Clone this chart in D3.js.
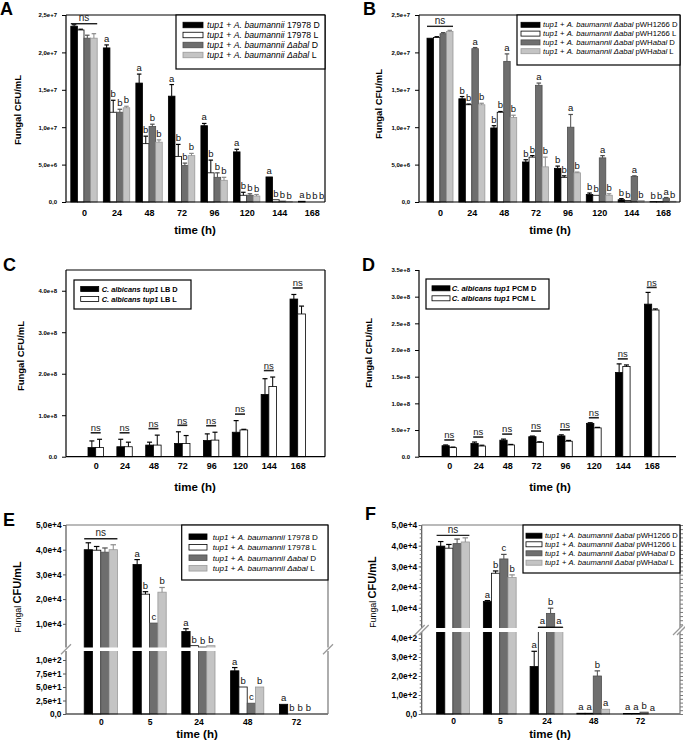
<!DOCTYPE html>
<html><head><meta charset="utf-8">
<script src="https://cdn.jsdelivr.net/npm/d3@7"></script>
<style>
body{margin:0;background:#fff}
svg{display:block}
text{white-space:pre}
</style>
</head><body>
<svg id="fig" width="685" height="748"></svg>
<script>
// ---------------- DATA ----------------
const timesLong = ["0","24","48","72","96","120","144","168"];
const timesShort = ["0","5","24","48","72"];

// Panel A  (Fungal CFU/mL)
const A_wtD   = [2.35e7, 2.06e7, 1.59e7, 1.415e7, 1.02e7, 0.67e7, 0.335e7, 0.01e7];
const A_wtD_e = [0.02e7, 0.04e7, 0.12e7, 0.155e7, 0.03e7, 0.035e7, 0, 0];
const A_wtL   = [2.30e7, 1.20e7, 0.78e7, 0.61e7, 0.39e7, 0.09e7, 0.03e7, 0];
const A_wtL_e = [0.01e7, 0.16e7, 0.10e7, 0.16e7, 0.17e7, 0.04e7, 0, 0];
const A_abD   = [2.19e7, 1.20e7, 1.01e7, 0.49e7, 0.33e7, 0.09e7, 0.013e7, 0];
const A_abD_e = [0.04e7, 0.04e7, 0.03e7, 0.03e7, 0.06e7, 0.02e7, 0, 0];
const A_abL   = [2.19e7, 1.26e7, 0.80e7, 0.62e7, 0.29e7, 0.08e7, 0.005e7, 0];
const A_abL_e = [0.06e7, 0.02e7, 0.03e7, 0.03e7, 0.04e7, 0.02e7, 0, 0];
const A_lab = [
  ["", "a","a","a","a","a","a","a"],
  ["", "b","b","b","b","b","b","b"],
  ["", "b","b","b","b","b","b","b"],
  ["", "b","b","b","b","b","b","b"]
];
const A_legend = ["*tup1* + *A. baumannii* 17978 D", "*tup1* + *A. baumannii* 17978 L",
                  "*tup1* + *A. baumannii* *Δabal* D", "*tup1* + *A. baumannii* *Δabal* L"];

// Panel B
const B_pD   = [2.19e7, 1.38e7, 0.99e7, 0.535e7, 0.45e7, 0.10e7, 0.03e7, 0.005e7];
const B_pD_e = [0, 0.03e7, 0.03e7, 0.03e7, 0.03e7, 0.02e7, 0.015e7, 0];
const B_pL   = [2.20e7, 1.30e7, 1.20e7, 0.60e7, 0.33e7, 0.09e7, 0.02e7, 0.005e7];
const B_pL_e = [0.01e7, 0.01e7, 0.01e7, 0.02e7, 0.02e7, 0, 0, 0];
const B_aD   = [2.25e7, 2.05e7, 1.88e7, 1.56e7, 1.00e7, 0.59e7, 0.34e7, 0.05e7];
const B_aD_e = [0.015e7, 0.015e7, 0.10e7, 0.03e7, 0.17e7, 0.03e7, 0.01e7, 0.01e7];
const B_aL   = [2.28e7, 1.30e7, 1.13e7, 0.47e7, 0.39e7, 0.09e7, 0.02e7, 0.01e7];
const B_aL_e = [0.015e7, 0.02e7, 0.03e7, 0.13e7, 0.01e7, 0.02e7, 0, 0];
const B_lab = [
  ["", "b","b","b","b","b","b","b"],
  ["", "b","b","b","b","b","b","b"],
  ["", "a","a","a","a","a","a","a"],
  ["", "b","b","b","b","b","b","b"]
];
const B_legend = ["*tup1* + *A. baumannii Δabal* pWH1266 D", "*tup1* + *A. baumannii Δabal* pWH1266 L",
                  "*tup1* + *A. baumannii Δabal* pWH*abal* D", "*tup1* + *A. baumannii Δabal* pWH*abal* L"];

// Panel C
const C_D   = [0.22e8, 0.24e8, 0.28e8, 0.32e8, 0.39e8, 0.59e8, 1.50e8, 3.80e8];
const C_D_e = [0.16e8, 0.18e8, 0.07e8, 0.28e8, 0.16e8, 0.28e8, 0.38e8, 0.11e8];
const C_L   = [0.22e8, 0.24e8, 0.28e8, 0.32e8, 0.40e8, 0.645e8, 1.69e8, 3.44e8];
const C_L_e = [0.20e8, 0.11e8, 0.24e8, 0.19e8, 0.19e8, 0.015e8, 0.23e8, 0.19e8];
const C_legend = ["*C. albicans tup1* LB D", "*C. albicans tup1* LB L"];

// Panel D
const D_D   = [0.206e8, 0.25e8, 0.31e8, 0.375e8, 0.39e8, 0.625e8, 1.58e8, 2.86e8];
const D_D_e = [0.014e8, 0.025e8, 0.02e8, 0.012e8, 0.02e8, 0.012e8, 0.16e8, 0.22e8];
const D_L   = [0.17e8, 0.20e8, 0.22e8, 0.27e8, 0.29e8, 0.54e8, 1.69e8, 2.75e8];
const D_L_e = [0.01e8, 0.015e8, 0.01e8, 0.01e8, 0.015e8, 0.01e8, 0.03e8, 0.02e8];
const D_legend = ["*C. albicans tup1* PCM D", "*C. albicans tup1* PCM L"];

// Panel E (broken axis)
const E_wtD   = [4.00e4, 3.40e4, 6900, 80, 18];
const E_wtD_e = [2800, 2000, 1100, 6, 0];
const E_wtL   = [3.98e4, 2.20e4, 1140, 50, 0];
const E_wtL_e = [1500, 1000, 0, 0, 0];
const E_abD   = [3.90e4, 1.03e4, 610, 20, 0];
const E_abD_e = [1700, 0, 0, 0, 0];
const E_abL   = [4.00e4, 2.28e4, 1140, 50, 0];
const E_abL_e = [2000, 1900, 0, 0, 0];
const E_lab = [
  ["", "a","a","a","a"],
  ["", "b","b","b","b"],
  ["", "c","b","c","b"],
  ["", "b","b","b","b"]
];

// Panel F (broken axis)
const F_pD   = [3.98e4, 1.30e4, 250, 4, 3];
const F_pD_e = [2200, 500, 80, 0, 0];
const F_pL   = [3.88e4, 2.67e4, 600, 4, 3];
const F_pL_e = [1800, 1100, 0, 0, 0];
const F_aD   = [4.10e4, 3.36e4, 7300, 200, 10];
const F_aD_e = [2200, 2200, 2500, 27, 0];
const F_aL   = [4.18e4, 2.46e4, 600, 25, 0];
const F_aL_e = [2000, 1300, 0, 0, 0];
const F_lab = [
  ["", "a","a","a","a"],
  ["", "b","a","a","a"],
  ["", "c","b","b","b"],
  ["", "b","a","a","a"]
];

// ---------------- DRAWING ----------------
const svg = d3.select("#fig");
const FF = '"Liberation Sans", Arial, Helvetica, sans-serif';
const FILL4 = ["#000000", "#ffffff", "#6e6e6e", "#c4c4c4"];
const STROKE4 = ["#000000", "#000000", "#4e4e4e", "#9a9a9a"];
const ERR4 = ["#000000", "#000000", "#4e4e4e", "#8a8a8a"];
const FILL2 = ["#000000", "#ffffff"];
const STROKE2 = ["#000000", "#000000"];

function sciFmt(sep) {
  return v => {
    if (v === 0) return "0" + sep + "0";
    const e = Math.floor(Math.log10(v) + 1e-9);
    return (v / Math.pow(10, e)).toFixed(1).replace(".", sep) + "e+" + e;
  };
}
function rich(t, label) {
  label.split("*").forEach((seg, i) => {
    if (seg) t.append("tspan").attr("font-style", i % 2 ? "italic" : "normal").text(seg);
  });
}

function drawPanel(p) {
  const g = svg.append("g").attr("font-family", FF);
  const x = d3.scalePoint().domain(p.cats).range(p.xr);
  const nS = p.series.length;
  const inner = d3.scaleBand().domain(d3.range(nS)).range([-nS * p.barW / 2, nS * p.barW / 2]);
  const bw = inner.bandwidth();
  let yv, yU, yL;
  if (p.broken) {
    yU = d3.scaleLinear().domain([0, p.upMax]).range([p.upZero, p.yTop]);
    yL = d3.scaleLinear().domain([0, p.lowRef]).range([p.y0, p.lowRefY]);
    const lowMax = yL.invert(p.gap[1]);
    yv = v => (v <= lowMax ? yL(v) : yU(v));
  } else {
    yv = d3.scaleLinear().domain([0, p.yMax]).range([p.y0, p.yTop]);
  }
  const rows = [];
  p.series.forEach((s, si) => s.vals.forEach((v, i) => rows.push({
    si, i, v, e: s.errs[i], lab: s.labs ? s.labs[i] : "",
    cx: x(p.cats[i]) + inner(si) + bw / 2
  })));

  // bars
  g.append("g").selectAll("rect").data(rows).join("rect")
    .attr("x", d => d.cx - bw / 2).attr("width", bw)
    .attr("y", d => yv(d.v)).attr("height", d => p.y0 - yv(d.v))
    .attr("fill", d => p.fills[d.si]).attr("stroke", d => p.strokes[d.si]).attr("stroke-width", 0.8);

  // error bars
  const er = rows.filter(d => d.e > 0);
  const eg = g.append("g").attr("stroke-width", 1);
  eg.selectAll("line").data(er).join("line")
    .attr("x1", d => d.cx).attr("x2", d => d.cx)
    .attr("y1", d => yv(d.v)).attr("y2", d => yv(d.v + d.e))
    .attr("stroke", d => p.errs[d.si]);
  const cg = g.append("g").attr("stroke-width", 1.2);
  cg.selectAll("line").data(er).join("line")
    .attr("x1", d => d.cx - p.capW / 2).attr("x2", d => d.cx + p.capW / 2)
    .attr("y1", d => yv(d.v + d.e)).attr("y2", d => yv(d.v + d.e))
    .attr("stroke", d => p.errs[d.si]);

  // frame / axis lines
  const fr = g.append("g").attr("fill", "none");
  fr.append("line").attr("x1", p.x0).attr("x2", p.x1).attr("y1", p.y0).attr("y2", p.y0)
    .attr("stroke", "#000").attr("stroke-width", 1.2);
  fr.append("line").attr("x1", p.x0).attr("x2", p.x0).attr("y1", p.yTop).attr("y2", p.y0)
    .attr("stroke", p.axisColor || "#000").attr("stroke-width", 1.2);
  if (p.frame) {
    fr.append("line").attr("x1", p.x0).attr("x2", p.x1).attr("y1", p.yTop).attr("y2", p.yTop)
      .attr("stroke", p.frameColor || "#000").attr("stroke-width", 1.2);
    fr.append("line").attr("x1", p.x1).attr("x2", p.x1).attr("y1", p.yTop).attr("y2", p.y0)
      .attr("stroke", p.frameColor || "#000").attr("stroke-width", 1.2);
  }

  // y ticks
  const styleAxis = (sel) => {
    sel.select(".domain").remove();
    sel.selectAll(".tick line").attr("stroke", p.axisColor || "#000");
    sel.selectAll(".tick text").attr("fill", "#000")
      .attr("font-size", p.ytSize).attr("font-weight", p.ytWeight || "bold").attr("font-family", FF);
  };
  const fmt = sciFmt(p.sep);
  if (p.broken) {
    g.append("g").attr("transform", `translate(${p.x0},0)`)
      .call(d3.axisLeft(yU).tickValues(p.upTicks).tickFormat(fmt).tickSize(p.tickLen).tickPadding(p.tickPad))
      .call(styleAxis);
    g.append("g").attr("transform", `translate(${p.x0},0)`)
      .call(d3.axisLeft(yL).tickValues(p.lowTicks).tickFormat(fmt).tickSize(p.tickLen).tickPadding(p.tickPad))
      .call(styleAxis);
    if (p.minor) {
      const upMinor = d3.range(0, p.upMax + 1, p.minor[0]).filter(v => yU(v) < p.gap[0] - 1);
      const lowMinor = d3.range(0, yL.invert(p.gap[1]), p.minor[1]);
      [[yU, upMinor], [yL, lowMinor]].forEach(([sc, vals]) => {
        g.append("g").attr("transform", `translate(${p.x0},0)`)
          .call(d3.axisLeft(sc).tickValues(vals).tickFormat("").tickSize(2))
          .call(s => { s.select(".domain").remove(); s.selectAll("line").attr("stroke", "#777"); });
        g.append("g").attr("transform", `translate(${p.x1},0)`)
          .call(d3.axisRight(sc).tickValues(vals).tickFormat("").tickSize(3))
          .call(s => { s.select(".domain").remove(); s.selectAll("line").attr("stroke", "#777"); });
      });
    }
    // gap
    g.append("rect").attr("x", p.x0 - 2).attr("width", p.x1 - p.x0 + 4)
      .attr("y", p.gap[0]).attr("height", p.gap[1] - p.gap[0]).attr("fill", "#fff");
    const gm = (p.gap[0] + p.gap[1]) / 2;
    const offs = p.doubleMark ? [-2, 2] : [0];
    [p.x0, p.x1].forEach(xx => offs.forEach(o => {
      g.append("line").attr("x1", xx - 5 + o).attr("y1", gm + 5).attr("x2", xx + 5 + o).attr("y2", gm - 5)
        .attr("stroke", "#999").attr("stroke-width", 1.3);
    }));
  } else {
    g.append("g").attr("transform", `translate(${p.x0},0)`)
      .call(d3.axisLeft(yv).tickValues(p.yTicks).tickFormat(fmt).tickSize(p.tickLen).tickPadding(p.tickPad))
      .call(styleAxis);
  }

  // x labels
  g.append("g").attr("transform", `translate(0,${p.y0})`)
    .call(d3.axisBottom(x).tickSize(0))
    .call(s => {
      s.select(".domain").remove();
      s.selectAll("text").attr("y", p.xlOff).attr("dy", 0).attr("fill", "#000")
        .attr("font-size", p.xlSize).attr("font-weight", "bold").attr("font-family", FF);
    });

  // letters
  g.append("g").selectAll("text").data(rows.filter(d => d.lab)).join("text")
    .attr("x", d => d.cx).attr("y", d => yv(d.v + d.e) - p.letGap)
    .attr("text-anchor", "middle").attr("font-size", p.letSize).attr("fill", "#111")
    .text(d => d.lab);

  // ns annotations
  p.ns.cats.forEach(c => {
    const grp = rows.filter(d => p.cats[d.i] === c);
    const top = d3.min(grp, d => yv(d.v + d.e));
    const cx = x(c);
    const half = p.ns.lineW ? p.ns.lineW / 2 : nS * p.barW / 2;
    const ly = top - p.ns.lineGap;
    g.append("line").attr("x1", cx - half).attr("x2", cx + half).attr("y1", ly).attr("y2", ly)
      .attr("stroke", "#222").attr("stroke-width", p.ns.lineSW || 1.4);
    g.append("text").attr("x", cx).attr("y", ly - p.ns.textGap).attr("text-anchor", "middle")
      .attr("font-size", p.ns.size).attr("fill", "#222").text("ns");
  });
  if (p.extraLines) p.extraLines.forEach(el => {
    const cx = x(el.cat);
    const yy = yv(p.series[el.ref].vals[p.cats.indexOf(el.cat)]);
    g.append("line").attr("x1", cx + inner(el.from)).attr("x2", cx + inner(el.to) + bw)
      .attr("y1", yy).attr("y2", yy).attr("stroke", "#000").attr("stroke-width", 1.2);
  });

  // legend
  const L = p.legend;
  const lg = g.append("g");
  lg.append("rect").attr("x", L.x).attr("y", L.y).attr("width", L.w).attr("height", L.h)
    .attr("fill", "#fff").attr("stroke", "#000").attr("stroke-width", 1.2);
  L.labels.forEach((lab, k) => {
    lg.append("rect").attr("x", L.swX).attr("y", L.rows[k] - L.swH / 2).attr("width", L.swW).attr("height", L.swH)
      .attr("fill", p.fills[k]).attr("stroke", p.strokes[k]).attr("stroke-width", 0.8);
    const t = lg.append("text").attr("x", L.txX).attr("y", L.rows[k] + L.size * 0.35)
      .attr("font-size", L.size).attr("font-weight", L.bold ? "bold" : "normal").attr("fill", "#000");
    rich(t, lab);
  });

  // y label
  const Y = p.ylab;
  const yt = g.append("text").attr("transform", `translate(${Y.x},${Y.y}) rotate(-90)`)
    .attr("text-anchor", "middle").attr("fill", "#000");
  if (Y.split) {
    yt.append("tspan").attr("font-size", Y.size * 0.8).text("Fungal ");
    yt.append("tspan").attr("font-size", Y.size).attr("font-weight", "bold").text("CFU/mL");
  } else {
    yt.attr("font-size", Y.size).attr("font-weight", "bold").text("Fungal CFU/mL");
  }
  // x title
  g.append("text").attr("x", p.xt[0]).attr("y", p.xt[1]).attr("text-anchor", "middle")
    .attr("font-size", p.xtSize).attr("font-weight", "bold").attr("fill", "#000").text("time (h)");
  // panel letter
  g.append("text").attr("x", p.letter[1]).attr("y", p.letter[2]).attr("font-size", 18)
    .attr("font-weight", "bold").attr("fill", "#000").text(p.letter[0]);
}

// -------- Panel A --------
drawPanel({
  cats: timesLong, xr: [84, 311.7], barW: 6.6, capW: 4.5,
  x0: 66, x1: 325, yTop: 15, y0: 202, yMax: 2.5e7, frame: true,
  yTicks: [0, 5e6, 1e7, 1.5e7, 2e7, 2.5e7], sep: ",", tickLen: 4, tickPad: 5, ytSize: 6,
  series: [
    {vals: A_wtD, errs: A_wtD_e, labs: A_lab[0]}, {vals: A_wtL, errs: A_wtL_e, labs: A_lab[1]},
    {vals: A_abD, errs: A_abD_e, labs: A_lab[2]}, {vals: A_abL, errs: A_abL_e, labs: A_lab[3]}
  ],
  fills: FILL4, strokes: STROKE4, errs: ERR4,
  xlOff: 14, xlSize: 9, letGap: 3, letSize: 9.5,
  ns: {cats: ["0"], lineGap: 1, textGap: 2.5, size: 10},
  legend: {labels: A_legend, x: 176, y: 15, w: 149, h: 54, rows: [25, 35, 45, 55],
           swX: 183, swW: 20, swH: 5.5, txX: 207, size: 8.7},
  ylab: {x: 21, y: 110, size: 9.5}, xt: [195, 234], xtSize: 11.5, letter: ["A", 0, 15]
});

// -------- Panel B --------
drawPanel({
  cats: timesLong, xr: [440, 663], barW: 6.5, capW: 4.5,
  x0: 419, x1: 680, yTop: 15, y0: 202, yMax: 2.5e7, frame: true,
  yTicks: [0, 5e6, 1e7, 1.5e7, 2e7, 2.5e7], sep: ",", tickLen: 4, tickPad: 5, ytSize: 6,
  series: [
    {vals: B_pD, errs: B_pD_e, labs: B_lab[0]}, {vals: B_pL, errs: B_pL_e, labs: B_lab[1]},
    {vals: B_aD, errs: B_aD_e, labs: B_lab[2]}, {vals: B_aL, errs: B_aL_e, labs: B_lab[3]}
  ],
  fills: FILL4, strokes: STROKE4, errs: ERR4,
  xlOff: 14, xlSize: 9, letGap: 3, letSize: 9.5,
  ns: {cats: ["0"], lineGap: 4, textGap: 2.5, size: 10},
  legend: {labels: B_legend, x: 517, y: 15, w: 163, h: 50, rows: [24.8, 33.6, 42.4, 51.2],
           swX: 521, swW: 19, swH: 5, txX: 543, size: 7.7},
  ylab: {x: 382, y: 104, size: 9.5}, xt: [550, 234], xtSize: 11.5, letter: ["B", 363, 15]
});

// -------- Panel C --------
drawPanel({
  cats: timesLong, xr: [95.7, 297.7], barW: 7.7, capW: 5,
  x0: 66, x1: 325, yTop: 270, y0: 456.7, yMax: 4.5e8, frame: true,
  yTicks: [0, 1e8, 2e8, 3e8, 4e8], sep: ".", tickLen: 4, tickPad: 5, ytSize: 6,
  series: [{vals: C_D, errs: C_D_e}, {vals: C_L, errs: C_L_e}],
  fills: FILL2, strokes: STROKE2, errs: STROKE2,
  xlOff: 12.5, xlSize: 9, letGap: 3, letSize: 9.5,
  ns: {cats: timesLong, lineW: 10, lineGap: 6.5, textGap: 1.8, size: 9.5, lineSW: 1.6},
  legend: {labels: C_legend, x: 74, y: 280, w: 117, h: 29, rows: [289, 299],
           swX: 80.7, swW: 18, swH: 5, txX: 101.7, size: 7.4, bold: true},
  ylab: {x: 24, y: 356, size: 9.5}, xt: [195, 491], xtSize: 11.5, letter: ["C", 3, 271]
});

// -------- Panel D --------
drawPanel({
  cats: timesLong, xr: [449.3, 651.7], barW: 7.3, capW: 5,
  x0: 419, x1: 676, yTop: 270, y0: 456.7, yMax: 3.5e8, frame: false,
  yTicks: [0, 5e7, 1e8, 1.5e8, 2e8, 2.5e8, 3e8, 3.5e8], sep: ".", tickLen: 4, tickPad: 5, ytSize: 6,
  series: [{vals: D_D, errs: D_D_e}, {vals: D_L, errs: D_L_e}],
  fills: FILL2, strokes: STROKE2, errs: STROKE2,
  xlOff: 12.5, xlSize: 9, letGap: 3, letSize: 9.5,
  ns: {cats: timesLong, lineW: 10, lineGap: 5, textGap: 1.8, size: 9.5, lineSW: 1.6},
  legend: {labels: D_legend, x: 426, y: 279, w: 123, h: 30, rows: [288.3, 298.3],
           swX: 432, swW: 18, swH: 5, txX: 451.7, size: 7.6, bold: true},
  ylab: {x: 372, y: 353, size: 9.5}, xt: [550, 491], xtSize: 11.5, letter: ["D", 362, 271]
});

// -------- Panel E --------
drawPanel({
  cats: timesShort, xr: [100.8, 296], barW: 8.3, capW: 5.5,
  x0: 66, x1: 328, yTop: 525, y0: 714, broken: true,
  upMax: 5e4, upZero: 648.5, lowRef: 100, lowRefY: 660, gap: [647.5, 651],
  upTicks: [1e4, 2e4, 3e4, 4e4, 5e4], lowTicks: [0, 25, 50, 75, 100],
  frame: true, frameColor: "#777", axisColor: "#555",
  sep: ",", tickLen: 3, tickPad: 1.5, ytSize: 8.3,
  series: [
    {vals: E_wtD, errs: E_wtD_e, labs: E_lab[0]}, {vals: E_wtL, errs: E_wtL_e, labs: E_lab[1]},
    {vals: E_abD, errs: E_abD_e, labs: E_lab[2]}, {vals: E_abL, errs: E_abL_e, labs: E_lab[3]}
  ],
  fills: FILL4, strokes: STROKE4, errs: ERR4,
  xlOff: 11, xlSize: 8.5, letGap: 3, letSize: 9.5,
  ns: {cats: ["0"], lineGap: 4, textGap: 2.5, size: 10},
  legend: {labels: A_legend, x: 181.7, y: 525, w: 146.3, h: 55, rows: [536.7, 547.3, 557.7, 568.3],
           swX: 189, swW: 18, swH: 5.5, txX: 212.7, size: 8.1},
  ylab: {x: 21, y: 597, size: 11, split: true}, xt: [197, 737.5], xtSize: 11.5, letter: ["E", 3, 526]
});

// -------- Panel F --------
drawPanel({
  cats: timesShort, xr: [453, 640], barW: 8.2, capW: 5.5,
  x0: 421.7, x1: 680, yTop: 525, y0: 714, broken: true,
  upMax: 5e4, upZero: 628.5, lowRef: 400, lowRefY: 638, gap: [628, 632], doubleMark: true,
  minor: [2000, 20],
  upTicks: [1e4, 2e4, 3e4, 4e4, 5e4], lowTicks: [0, 100, 200, 300, 400],
  frame: true, frameColor: "#777", axisColor: "#555",
  sep: ",", tickLen: 3, tickPad: 1.5, ytSize: 8.3,
  series: [
    {vals: F_pD, errs: F_pD_e, labs: F_lab[0]}, {vals: F_pL, errs: F_pL_e, labs: F_lab[1]},
    {vals: F_aD, errs: F_aD_e, labs: F_lab[2]}, {vals: F_aL, errs: F_aL_e, labs: F_lab[3]}
  ],
  fills: FILL4, strokes: STROKE4, errs: ERR4,
  xlOff: 10, xlSize: 8.5, letGap: 3, letSize: 9.5,
  ns: {cats: ["0"], lineGap: 2.5, textGap: 2.5, size: 10},
  extraLines: [{cat: "24", from: 1, to: 3, ref: 3}],
  legend: {labels: B_legend, x: 523, y: 525, w: 157, h: 48, rows: [535.7, 544.3, 553.3, 562.7],
           swX: 526, swW: 16, swH: 5, txX: 545, size: 7.6},
  ylab: {x: 376, y: 592, size: 11, split: true}, xt: [550, 737.5], xtSize: 11.5, letter: ["F", 365, 520]
});
</script>
</body></html>
